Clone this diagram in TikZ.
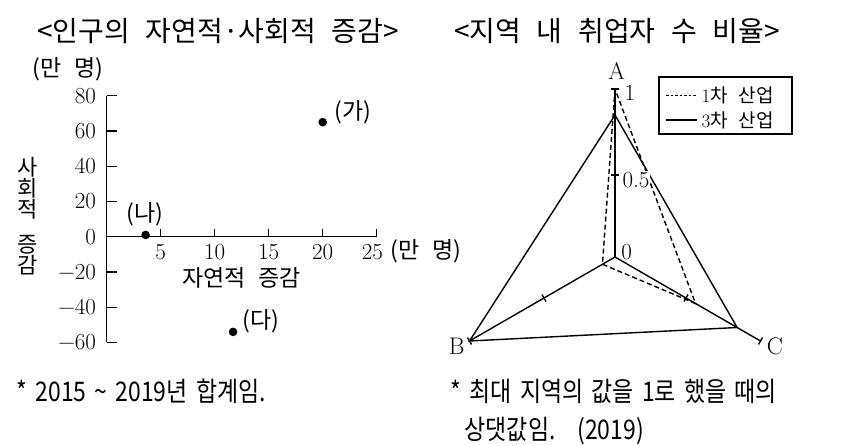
\documentclass[tikz,border=0pt]{standalone}
\usepackage{fontspec}
\newfontfamily\kr{Noto Sans CJK KR}
\newfontfamily\krtitle{Noto Sans CJK KR}[WordSpace=2.5]
\newfontfamily\krnote{Noto Sans CJK KR}[FakeStretch=0.85, WordSpace=1.6]
\usetikzlibrary{calc}

\tikzset{
  ttl/.style={font=\krtitle\fontsize{28}{32}\selectfont, inner sep=0pt},
  num/.style={font=\fontsize{23}{26}\selectfont, inner sep=0pt},
  lab/.style={font=\kr\fontsize{23}{21}\selectfont, inner sep=0pt},
  leg/.style={font=\fontsize{19}{22}\selectfont, inner sep=0pt},
  abc/.style={font=\fontsize{24}{28}\selectfont, inner sep=0pt},
  note/.style={font=\krnote\fontsize{27}{38}\selectfont, inner sep=0pt, align=left},
  dot/.style={circle, fill=black, inner sep=0pt, minimum size=8.6pt},
  dash1/.style={dash pattern=on 5pt off 3pt},
}

\begin{document}
\begin{tikzpicture}[x=1pt, y=-1pt, line width=1.4pt]
  \useasboundingbox (0,0) rectangle (858,445);

  \node[ttl] (t1) at (218,31.5) {<인구의 자연적·사회적 증감>};
  \node[ttl] (t2) at (617,31.5) {<지역 내 취업자 수 비율>};

  \begin{scope}
    \node[lab] (unit1) at (68,69) {(만 명)};
    \node[lab, font=\kr\fontsize{22}{21}\selectfont, align=center] (ylab) at (28,216) {사\\회\\적\\[14pt]증\\감};
    \node[lab] (xlab) at (241.7,278.3) {자연적 증감};
    \node[lab] (unit2) at (426,251.7) {(만 명)};
  \end{scope}

  \begin{scope}[shift={(106.7,236.7)}, x=10.8pt, y=1.7625pt]
    \coordinate (org) at (0,0);
    \coordinate (ytop) at (0,80);
    \coordinate (ybot) at (0,-60);
    \coordinate (xend) at (25,0);
    \draw (ybot) -- (ytop);
    \draw (org) -- (xend);
    \foreach \v/\t in {80/80,60/60,40/40,20/20,0/0,-20/−20,-40/−40,-60/−60}{
      \draw (0,\v) -- (0.93,\v);
      \node[num, anchor=east] at (-0.93,\v) {\t};
    }
    \foreach \v in {5,10,...,20}{
      \draw (\v,0) -- (\v,4.5);
      \node[num] at (\v,-8.5) {\v};
    }
    \draw (25,0) -- (25,4.5);
    \node[num] (x25) at (24.6,-8.5) {25};
    \node[dot] (ga) at (20,65) {};
    \node[dot] (na) at (3.6,1) {};
    \node[dot] (da) at (11.7,-54) {};
    \node[lab] (gal) at (22.8,70.9) {(가)};
    \node[lab] (nal) at (3.55,12.5) {(나)};
    \node[lab] (dal) at (14.3,-47.8) {(다)};
  \end{scope}

  \begin{scope}[shift={(615,257)}]
    \coordinate (O) at (0,0);
    \coordinate (A) at (-90:168);
    \coordinate (B) at (150:168);
    \coordinate (C) at (30:168);
    \foreach \p in {A,B,C} \draw (O) -- (\p);
    \foreach \a in {-90,150,30}
      \foreach \r in {82,168}
        \draw ($(\a:\r)+(\a+90:4)$) -- ($(\a:\r)+(\a-90:4)$);
    % 3차 산업
    \coordinate (A3) at (-90:142);
    \coordinate (B3) at (150:168);
    \coordinate (C3) at (30:141);
    \draw (A3) -- (B3) -- (C3) -- cycle;
    % 1차 산업
    \coordinate (A1) at (-90:168);
    \coordinate (B1) at (150:14.5);
    \coordinate (C1) at (30:93);
    \draw[dash1] (A1) -- (B1) -- (C1) -- cycle;
  \end{scope}

  \node[num] (v1) at (630,93) {1};
  \node[num, fill=white, inner sep=1pt] (v05) at (636,180) {0.5};
  \node[num] (v0) at (626.7,252) {0};
  \node[abc] (la) at (616.7,71) {A};
  \node[abc] (lb) at (456.7,346) {B};
  \node[abc] (lc) at (775,346) {C};

  \draw (659,77) rectangle (792,134);
  \draw[dash pattern=on 2.5pt off 2pt, line width=1pt] (666,95) -- (697,95);
  \draw (666,120) -- (697,120);
  \node[leg, anchor=west] (k1) at (701,95) {1\kr 차 산업};
  \node[leg, anchor=west] (k3) at (701,120) {3\kr 차 산업};

  \node[note, anchor=base west] (n1) at (16,401) {* 2015 \textasciitilde{} 2019년 합계임.};
  \node[note, anchor=base west] (n2) at (450,439) {* 최대 지역의 값을 1로 했을 때의\\\hspace*{14pt}상댓값임.\hspace{12pt} (2019)};
\end{tikzpicture}
\end{document}
